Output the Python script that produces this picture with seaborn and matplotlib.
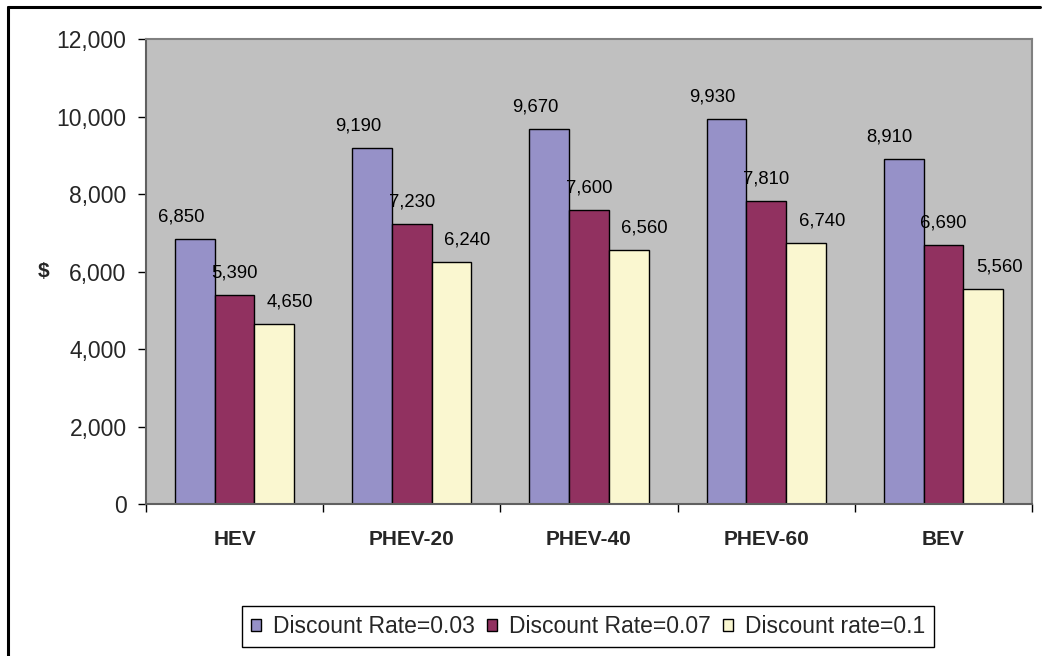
import seaborn as sns
import matplotlib.pyplot as plt
import matplotlib.ticker as mticker
import pandas as pd
from matplotlib.lines import Line2D

# dati
vehicles = ['HEV', 'PHEV-20', 'PHEV-40', 'PHEV-60', 'BEV']
rates = ['Discount Rate=0.03', 'Discount Rate=0.07', 'Discount rate=0.1']
rate_003 = [6850, 9190, 9670, 9930, 8910]
rate_007 = [5390, 7230, 7600, 7810, 6690]
rate_010 = [4650, 6240, 6560, 6740, 5560]

df = pd.DataFrame({
    'vehicle': vehicles * 3,
    'rate': [rates[0]] * 5 + [rates[1]] * 5 + [rates[2]] * 5,
    'value': rate_003 + rate_007 + rate_010,
})

sns.set_style('white')
plt.rcParams['font.family'] = ['Liberation Sans', 'DejaVu Sans']

fig = plt.figure(figsize=(10.47, 6.56), dpi=100)
ax = fig.add_axes([0.1394, 0.2317, 0.8463, 0.7088])
ax.set_facecolor('#C0C0C0')

colors = ['#9691C8', '#913160', '#FAF7D0']
sns.barplot(data=df, x='vehicle', y='value', hue='rate',
            order=vehicles, hue_order=rates, palette=colors,
            width=0.672, edgecolor='black', linewidth=1,
            saturation=1, errorbar=None, ax=ax)

# etichette sopra le barre (spostate come nell'originale)
x_off = [-14, 0, 16]
for cont, dx in zip(ax.containers, x_off):
    for bar in cont:
        h = bar.get_height()
        ax.annotate(f'{h:,.0f}', (bar.get_x() + bar.get_width() / 2, h),
                    xytext=(dx, 22), textcoords='offset pixels',
                    ha='center', va='center', fontsize=13.3, color='black')

ax.set_ylim(0, 12000)
ax.set_xlim(-0.5, len(vehicles) - 0.5)
ax.yaxis.set_major_locator(mticker.MultipleLocator(2000))
ax.yaxis.set_major_formatter(mticker.StrMethodFormatter('{x:,.0f}'))
ax.tick_params(axis='y', which='major', left=True, length=6, width=1,
               labelsize=16.5, pad=8, color='black')

# tick sulle separazioni, etichette al centro
ax.set_xticks([i - 0.5 for i in range(len(vehicles) + 1)])
ax.set_xticklabels([])
ax.set_xticks(range(len(vehicles)), minor=True)
ax.set_xticklabels(vehicles, minor=True, fontsize=15, fontweight='bold')
ax.tick_params(axis='x', which='major', bottom=True, length=6, width=1, color='black')
ax.tick_params(axis='x', which='minor', bottom=False, length=0, pad=19)

ax.set_xlabel('')
ax.set_ylabel('$', rotation=0, fontsize=15, fontweight='bold', labelpad=9, va='center')

for side in ['top', 'right']:
    ax.spines[side].set_color('#808080')
    ax.spines[side].set_linewidth(1.5)
for side in ['left', 'bottom']:
    ax.spines[side].set_color('#606060')
    ax.spines[side].set_linewidth(1.5)

handles, labels = ax.get_legend_handles_labels()
ax.legend(handles, labels, loc='center', bbox_to_anchor=(588 / 1047, 1 - 626.5 / 656),
          bbox_transform=fig.transFigure, ncol=3, fontsize=16.5, frameon=True,
          fancybox=False, edgecolor='black', framealpha=1,
          handlelength=0.45, handleheight=0.45, handletextpad=0.5,
          columnspacing=0.55, borderpad=0.4)
ax.get_legend().get_frame().set_linewidth(1)

# bordo esterno del grafico
fig.add_artist(Line2D([8 / 1047, 8 / 1047], [0, 1 - 7 / 656], color='black', lw=2.2))
fig.add_artist(Line2D([8 / 1047, 1040 / 1047], [1 - 7 / 656, 1 - 7 / 656], color='black', lw=2.2))

fig.savefig('out.png', dpi=100)
